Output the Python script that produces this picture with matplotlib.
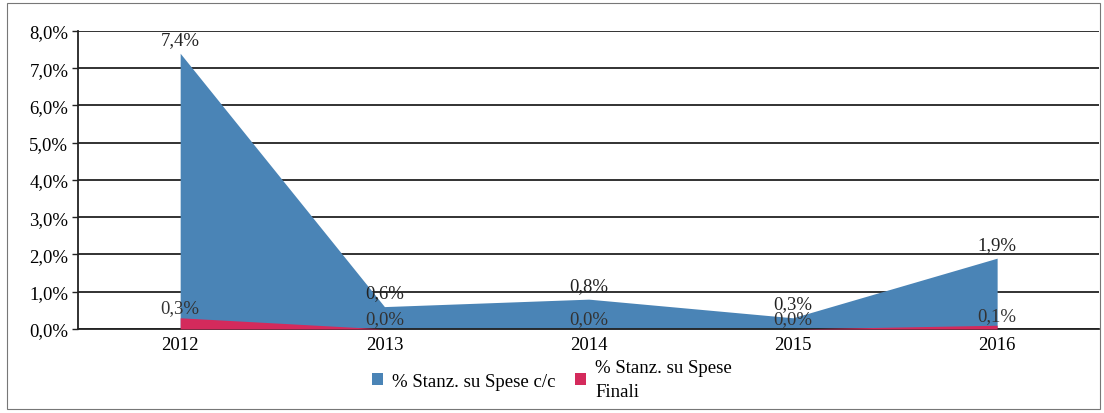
import matplotlib
matplotlib.use("Agg")
import matplotlib.pyplot as plt
from matplotlib.patches import Rectangle, Patch

years = ["2012", "2013", "2014", "2015", "2016"]
spese_cc = [7.4, 0.6, 0.8, 0.3, 1.9]
spese_finali = [0.3, 0.0, 0.0, 0.0, 0.1]
yticks = [0, 1, 2, 3, 4, 5, 6, 7, 8]

plt.rcParams['font.family'] = ['Liberation Serif', 'DejaVu Serif']
FS = 13.5

fig = plt.figure(figsize=(11.04, 4.14), dpi=100)
ax = fig.add_axes([0.0707, 0.203, 0.925, 0.72])

blue = "#4a84b6"
red = "#d42a5c"
x = list(range(len(years)))
ax.fill_between(x, spese_cc, 0, color=blue, lw=0, zorder=2)
ax.fill_between(x, spese_finali, 0, color=red, lw=0, zorder=3)

def fmt(v):
    return f"{v:.1f}".replace(".", ",") + "%"

for i, v in enumerate(spese_cc):
    ax.annotate(fmt(v), (i, v), xytext=(0, 4), textcoords="offset points",
                ha="center", va="bottom", fontsize=FS, color="#222222", zorder=5)
for i, v in enumerate(spese_finali):
    ax.annotate(fmt(v), (i, v), xytext=(0, 1), textcoords="offset points",
                ha="center", va="bottom", fontsize=FS, color="#333333", zorder=5)

ax.set_xlim(-0.5, 4.5)
ax.set_ylim(0, 8)
ax.set_yticks(yticks)
ax.set_yticklabels([fmt(t) for t in yticks], fontsize=FS)
ax.set_xticks(x)
ax.set_xticklabels(years, fontsize=FS)
ax.tick_params(axis="x", length=0, pad=5)
ax.tick_params(axis="y", length=4, width=1, color="#222222", pad=3)
ax.yaxis.grid(True, color="#222222", lw=1.3, zorder=1)
ax.set_axisbelow(True)
for s in ["top", "right"]:
    ax.spines[s].set_visible(False)
ax.spines["left"].set_color("#222222")
ax.spines["bottom"].set_color("#222222")
ax.spines["left"].set_linewidth(1.3)
ax.spines["bottom"].set_linewidth(1.3)

handles = [Patch(facecolor=blue, label="% Stanz. su Spese c/c"),
           Patch(facecolor=red, label="% Stanz. su Spese\nFinali")]
leg = fig.legend(handles=handles, loc="upper center", bbox_to_anchor=(0.5, 0.13), ncol=2,
                 frameon=False, fontsize=FS, handlelength=0.6, handleheight=0.6,
                 columnspacing=1.0, handletextpad=0.5, borderaxespad=0, borderpad=0)
leg.get_texts()[1].set_linespacing(1.5)

fig.patches.append(Rectangle((0.006, 0.01), 0.99, 0.98, transform=fig.transFigure,
                             fill=False, edgecolor="#777777", lw=0.8))

fig.savefig("out.png", dpi=100)
